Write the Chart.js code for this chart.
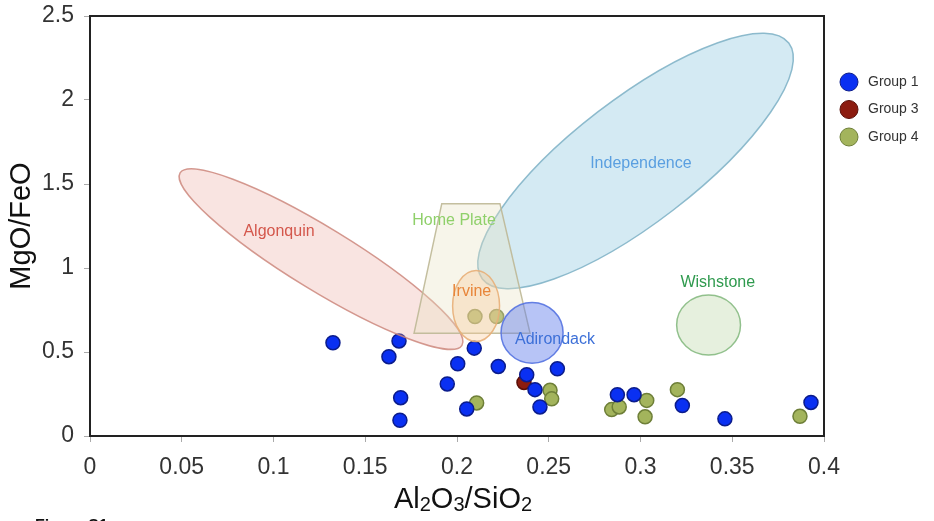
<!DOCTYPE html>
<html>
<head>
<meta charset="utf-8">
<script src="https://cdn.jsdelivr.net/npm/chart.js@4.4.1/dist/chart.umd.min.js"></script>
<style>
  html, body { margin: 0; padding: 0; background: #fff; }
</style>
</head>
<body>
<canvas id="diagramme" width="934" height="521"></canvas>
<script>
const police = "'Liberation Sans', Arial, Helvetica, sans-serif";

// graduations
const xTicks = [0, 0.05, 0.1, 0.15, 0.2, 0.25, 0.3, 0.35, 0.4];
const yTicks = [0, 0.5, 1, 1.5, 2, 2.5];

// mesures (Al2O3/SiO2, MgO/FeO)
const groupes = ["Group 1", "Group 3", "Group 4"];

const group1X = [0.1324, 0.1629, 0.1684, 0.1693, 0.1689, 0.1947, 0.2004, 0.2094, 0.2053, 0.2225,
                 0.2380, 0.2425, 0.2452, 0.2547, 0.2874, 0.2965, 0.3228, 0.3460, 0.3929];
const group1Y = [0.555, 0.472, 0.566, 0.228, 0.094, 0.310, 0.430, 0.523, 0.161, 0.414,
                 0.365, 0.276, 0.173, 0.400, 0.246, 0.246, 0.181, 0.102, 0.200];

const group3X = [0.2365];
const group3Y = [0.319];

const group4X = [0.2098, 0.2216, 0.2107, 0.2507, 0.2516, 0.2843, 0.2884, 0.3034, 0.3025, 0.3201, 0.3869];
const group4Y = [0.711, 0.711, 0.197, 0.272, 0.221, 0.157, 0.173, 0.212, 0.114, 0.276, 0.117];

// zones : centre, bout du grand axe, rapport petit axe / grand axe
const zoneNoms = ["Algonquin", "Independence", "Irvine", "Adirondack", "Wishstone"];
const zoneCentreX = [0.1259, 0.2973, 0.2104, 0.2409, 0.3371];
const zoneCentreY = [1.053, 1.637, 0.774, 0.614, 0.661];
const zoneBoutX = [0.2027, 0.3808, 0.2104, 0.2578, 0.3545];
const zoneBoutY = [0.540, 2.339, 0.985, 0.614, 0.661];
const zoneRapport = [0.19, 0.32, 0.662, 0.98, 0.94];

// Home Plate (trapeze)
const homePlateX = [0.1917, 0.2234, 0.2398, 0.1766];
const homePlateY = [1.383, 1.383, 0.612, 0.612];

// noms des zones
const etiquettes = ["Algonquin", "Home Plate", "Irvine", "Adirondack", "Independence", "Wishstone"];
const etiquetteX = [0.1030, 0.1984, 0.2080, 0.2534, 0.3002, 0.3421];
const etiquetteY = [1.215, 1.284, 0.859, 0.572, 1.620, 0.912];

const styles = {
    "Algonquin":    {fond: "rgba(236,165,155,0.30)", trait: "rgba(205,135,125,0.85)", texte: "#d4574c"},
    "Independence": {fond: "rgba(160,208,228,0.45)", trait: "rgba(130,180,200,0.9)",  texte: "#5a9fe0"},
    "Home Plate":   {fond: "rgba(232,226,195,0.35)", trait: "rgba(190,184,150,0.9)",  texte: "#8fd06a"},
    "Irvine":       {fond: "rgba(248,200,150,0.35)", trait: "rgba(232,175,120,0.9)",  texte: "#e8863a"},
    "Adirondack":   {fond: "rgba(95,125,235,0.45)",  trait: "rgba(85,115,225,0.9)",   texte: "#3d70d8"},
    "Wishstone":    {fond: "rgba(205,225,190,0.50)", trait: "rgba(140,190,135,0.95)", texte: "#2f9a4e"}
};

const couleurs = [
    {fond: "#0a30f2", trait: "#0b1c8c"},
    {fond: "#8c1c10", trait: "#5a0f08"},
    {fond: "#a3b45c", trait: "#6e7f38"}
];

const points = (xs, ys) => xs.map((x, i) => ({x: x, y: ys[i]}));

function dessineZone(ctx, sx, sy, i) {
    const st = styles[zoneNoms[i]];
    const cx = sx.getPixelForValue(zoneCentreX[i]), cy = sy.getPixelForValue(zoneCentreY[i]);
    const ex = sx.getPixelForValue(zoneBoutX[i]), ey = sy.getPixelForValue(zoneBoutY[i]);
    const a = Math.hypot(ex - cx, ey - cy);
    ctx.beginPath();
    ctx.ellipse(cx, cy, a, a * zoneRapport[i], Math.atan2(ey - cy, ex - cx), 0, Math.PI * 2);
    ctx.fillStyle = st.fond;
    ctx.fill();
    ctx.strokeStyle = st.trait;
    ctx.lineWidth = 1.5;
    ctx.stroke();
}

function dessineHomePlate(ctx, sx, sy) {
    const st = styles["Home Plate"];
    ctx.beginPath();
    homePlateX.forEach((x, i) => {
        const px = sx.getPixelForValue(x), py = sy.getPixelForValue(homePlateY[i]);
        if (i === 0) ctx.moveTo(px, py); else ctx.lineTo(px, py);
    });
    ctx.closePath();
    ctx.fillStyle = st.fond;
    ctx.fill();
    ctx.strokeStyle = st.trait;
    ctx.lineWidth = 1.5;
    ctx.stroke();
}

const zones = {
    id: 'zones',
    afterDatasetsDraw(chart) {
        const {ctx, scales: {x, y}} = chart;
        ctx.save();
        dessineZone(ctx, x, y, 0);
        dessineZone(ctx, x, y, 1);
        dessineHomePlate(ctx, x, y);
        dessineZone(ctx, x, y, 2);
        dessineZone(ctx, x, y, 3);
        dessineZone(ctx, x, y, 4);
        ctx.font = "16px " + police;
        ctx.textAlign = "center";
        ctx.textBaseline = "middle";
        etiquettes.forEach((nom, i) => {
            ctx.fillStyle = styles[nom].texte;
            ctx.fillText(nom, x.getPixelForValue(etiquetteX[i]), y.getPixelForValue(etiquetteY[i]));
        });
        ctx.restore();
    }
};

const cadre = {
    id: 'cadre',
    afterDraw(chart) {
        const {ctx, chartArea: ca} = chart;
        ctx.save();
        ctx.strokeStyle = "#222";
        ctx.lineWidth = 2;
        ctx.beginPath();
        ctx.moveTo(ca.left, ca.top);
        ctx.lineTo(ca.right, ca.top);
        ctx.lineTo(ca.right, ca.bottom);
        ctx.stroke();

        // titre de l'axe x avec indices
        const morceaux = [["Al", false], ["2", true], ["O", false], ["3", true], ["/SiO", false], ["2", true]];
        const grand = "29px " + police, petit = "20px " + police;
        let largeur = 0;
        morceaux.forEach(([t, sub]) => { ctx.font = sub ? petit : grand; largeur += ctx.measureText(t).width; });
        let px = (ca.left + ca.right) / 2 + 6 - largeur / 2;
        const base = ca.bottom + 72;
        ctx.fillStyle = "#111";
        ctx.textAlign = "left";
        ctx.textBaseline = "alphabetic";
        morceaux.forEach(([t, sub]) => {
            ctx.font = sub ? petit : grand;
            ctx.fillText(t, px, sub ? base + 3 : base);
            px += ctx.measureText(t).width;
        });

        // legende
        ctx.font = "14px " + police;
        ctx.textBaseline = "middle";
        chart.data.datasets.forEach((ds, i) => {
            const ly = ca.top + 66 + i * 27.5;
            const lx = ca.right + 25;
            ctx.beginPath();
            ctx.arc(lx, ly, 9, 0, Math.PI * 2);
            ctx.fillStyle = ds.backgroundColor;
            ctx.fill();
            ctx.strokeStyle = ds.borderColor;
            ctx.lineWidth = 1;
            ctx.stroke();
            ctx.fillStyle = "#333";
            ctx.fillText(ds.label, lx + 19, ly);
        });

        // legende de figure, coupee en bas
        ctx.font = "bold 16px " + police;
        ctx.fillStyle = "#111";
        ctx.textBaseline = "top";
        ctx.fillText("Figure S1.", 35, chart.height - 2);
        ctx.restore();
    }
};

new Chart(document.getElementById('diagramme'), {
    type: 'scatter',
    data: {
        datasets: [
            {label: groupes[0], data: points(group1X, group1Y)},
            {label: groupes[1], data: points(group3X, group3Y)},
            {label: groupes[2], data: points(group4X, group4Y)}
        ].map((ds, i) => Object.assign(ds, {
            backgroundColor: couleurs[i].fond,
            borderColor: couleurs[i].trait,
            borderWidth: 1.5,
            pointRadius: 7,
            pointHoverRadius: 7
        }))
    },
    options: {
        responsive: false,
        devicePixelRatio: 1,
        animation: false,
        layout: {padding: {top: 16, right: 110, bottom: 0, left: 0}},
        plugins: {legend: {display: false}, tooltip: {enabled: false}},
        scales: {
            x: {
                type: 'linear',
                min: 0,
                max: 0.4,
                afterBuildTicks: axis => { axis.ticks = xTicks.map(v => ({value: v})); },
                afterFit: axis => { axis.height = 85; },
                ticks: {font: {size: 23, family: police}, color: "#333", padding: 12,
                        maxRotation: 0, autoSkip: false, callback: v => String(v)},
                grid: {drawOnChartArea: false, tickLength: 6, color: "#aaa"},
                border: {display: true, color: "#222", width: 2},
                title: {display: false}
            },
            y: {
                type: 'linear',
                min: 0,
                max: 2.5,
                afterBuildTicks: axis => { axis.ticks = yTicks.map(v => ({value: v})); },
                afterFit: axis => { axis.width = 90; axis.paddingTop = 0; axis.paddingBottom = 0; },
                ticks: {font: {size: 23, family: police}, color: "#333", padding: 10,
                        autoSkip: false, callback: v => String(v)},
                grid: {drawOnChartArea: false, tickLength: 6, color: "#aaa"},
                border: {display: true, color: "#222", width: 2},
                title: {display: true, text: "MgO/FeO", color: "#111",
                        font: {size: 29, family: police}, padding: {top: 5}}
            }
        }
    },
    plugins: [zones, cadre]
});
</script>
</body>
</html>
